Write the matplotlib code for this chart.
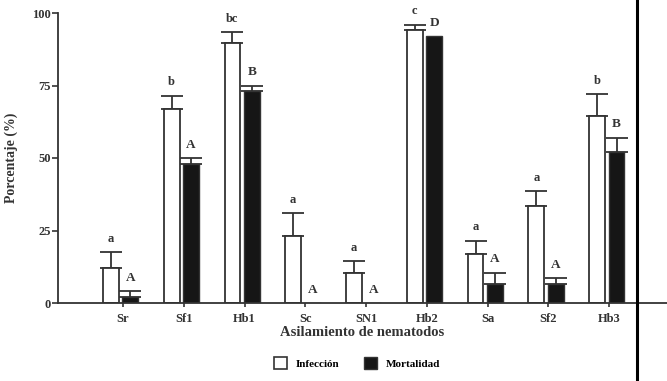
import numpy as np
import matplotlib
matplotlib.use("Agg")
import matplotlib.pyplot as plt
from matplotlib.patches import Patch
from matplotlib.lines import Line2D

plt.rcParams['font.family'] = ['Liberation Serif', 'DejaVu Serif']
plt.rcParams['font.weight'] = 'bold'

# data
aislados = ["Sr", "Sf1", "Hb1", "Sc", "SN1", "Hb2", "Sa", "Sf2", "Hb3"]
infeccion = [12, 67, 89.5, 23, 10.5, 94, 17, 33.5, 64.5]
infeccion_err = [5.5, 4.5, 4, 8, 4, 2, 4.5, 5, 7.5]
mortalidad = [2, 48, 73, 0, 0, 92, 6.5, 6.5, 52]
mortalidad_err = [2, 2, 2, 0, 0, 0, 4, 2, 5]
letras_inf = ["a", "b", "bc", "a", "a", "c", "a", "a", "b"]
letras_mort = ["A", "A", "B", "A", "A", "D", "A", "A", "B"]

x = np.arange(len(aislados))
w = 0.26
off = 0.16
shift = -0.04

fig = plt.figure(figsize=(6.67, 3.81), dpi=100)
ax = fig.add_axes([58/667, 78/381, 609/667, 290/381])

inf = np.array(infeccion)
mor = np.array(mortalidad)
xi = x - off + shift
xm = x + off + shift
ax.bar(xi, inf, w, color="white", edgecolor="#333333", linewidth=1.3, zorder=2)
ax.bar(xm, mor, w, color="#161616", edgecolor="#333333", linewidth=1.0, zorder=2)

ie = np.array(infeccion_err)
me = np.array(mortalidad_err)
ax.errorbar(xi, inf, yerr=[np.zeros_like(ie), ie], fmt="none",
            ecolor="#333333", elinewidth=1.3, capsize=8, capthick=1.3, zorder=1)
mask = me > 0
ax.errorbar(xm[mask], mor[mask], yerr=[np.zeros(mask.sum()), me[mask]], fmt="none",
            ecolor="#333333", elinewidth=1.3, capsize=8, capthick=1.3, zorder=1)

for i in range(len(aislados)):
    ax.text(xi[i], inf[i] + ie[i] + 2.5, letras_inf[i], ha="center", va="bottom",
            fontsize=9, fontweight="bold", color="#333333")
    ax.text(xm[i], mor[i] + me[i] + 2.5, letras_mort[i], ha="center", va="bottom",
            fontsize=9.5, fontweight="bold", color="#333333")

ax.set_xlim(-1.07, 8.95)
ax.set_ylim(0, 100)
ax.set_yticks([0, 25, 50, 75, 100])
ax.set_xticks(x)
ax.set_xticklabels(aislados)
ax.tick_params(axis="both", labelsize=9, color="#333333", labelcolor="#333333", width=1.2)
ax.tick_params(axis="y", length=4, pad=1)
ax.tick_params(axis="x", length=3, pad=4)
for lab in ax.get_xticklabels() + ax.get_yticklabels():
    lab.set_fontweight("bold")
for s in ["top", "right"]:
    ax.spines[s].set_visible(False)
for s in ["left", "bottom"]:
    ax.spines[s].set_linewidth(1.3)
    ax.spines[s].set_color("#333333")

ax.set_xlabel("Asilamiento de nematodos", fontsize=10.5, fontweight="bold", color="#333333", labelpad=1)
ax.set_ylabel("Porcentaje (%)", fontsize=10, fontweight="bold", color="#333333", labelpad=10)

handles = [Patch(facecolor="white", edgecolor="#333333", linewidth=1.2),
           Patch(facecolor="#161616", edgecolor="#333333")]
fig.legend(handles, ["Infección", "Mortalidad"], loc="center", bbox_to_anchor=(357/667, 1 - 363/381),
           ncol=2, frameon=False, handlelength=1.2, handleheight=1.3,
           columnspacing=2.2, handletextpad=0.8, prop={"weight": "bold", "size": 8})

fig.add_artist(Line2D([637/667, 637/667], [0, 1], color="black", linewidth=2.2))

fig.savefig("out.png", dpi=100)
